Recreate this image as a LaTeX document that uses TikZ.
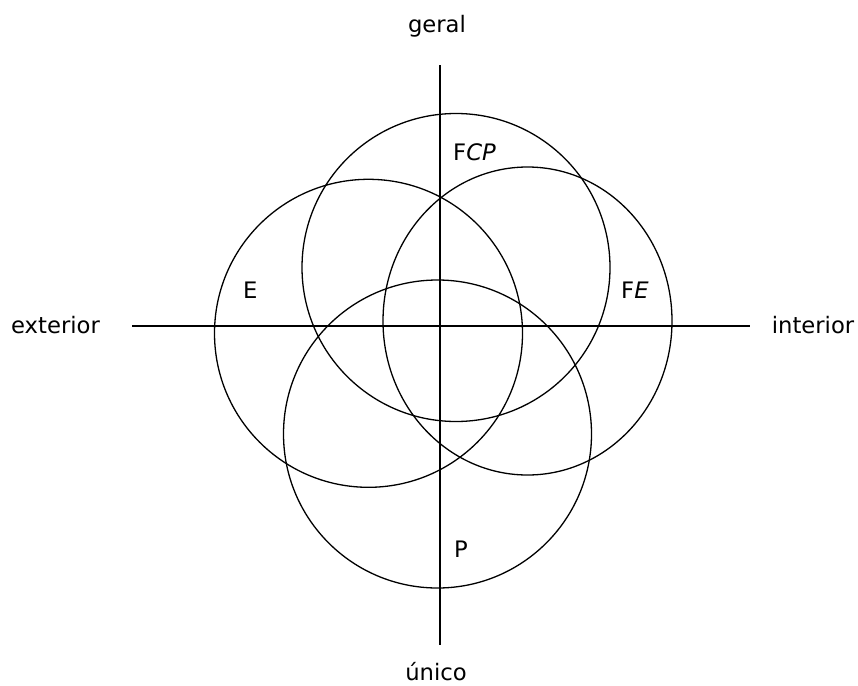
\documentclass[tikz,border=0pt]{standalone}
\usepackage{fontspec}
\setmainfont{DejaVu Sans}
\usepackage{tikz}
\usetikzlibrary{positioning}

\begin{document}
\begin{tikzpicture}[
          x=1pt, y=-1pt,
          font=\fontsize{22.7}{27}\selectfont,
          axis/.style={line width=2.6pt, color=black},
          ring/.style={line width=1.3pt, color=black},
          pole/.style={inner sep=0pt, anchor=base},
          tag/.style={inner sep=0pt, anchor=base west}
        ]
          \useasboundingbox (0,0) rectangle (858,685);

          % axes and their ends
          \node[pole] (geral) at (437,33) {geral};
          \node[pole] (unico) at (436,680) {único};
          \node[pole] (ext) at (55.5,333) {exterior};
          \node[pole] (int) at (813,333) {interior};
          \coordinate (top) at (440,65);
          \coordinate (bot) at (440,645);
          \coordinate (lft) at (132,326);
          \coordinate (rgt) at (750,326);
          \draw[axis] (top) -- (bot);
          \draw[axis] (lft) -- (rgt);

          % the four circles
          \draw[ring] (456,267.5) circle [radius=154];
          \draw[ring] (368.5,333.3) circle [radius=154];
          \draw[ring] (527.5,321) circle [x radius=144.5, y radius=154];
          \draw[ring] (437.5,434) circle [radius=154];

          \node[tag] (fcp) at (453,160) {F\textit{CP}};
          \node[tag] (e) at (243,298) {E};
          \node[tag] (fe) at (621,298) {F\textit{E}};
          \node[tag] (p) at (454,557) {P};
        \end{tikzpicture}
\end{document}
